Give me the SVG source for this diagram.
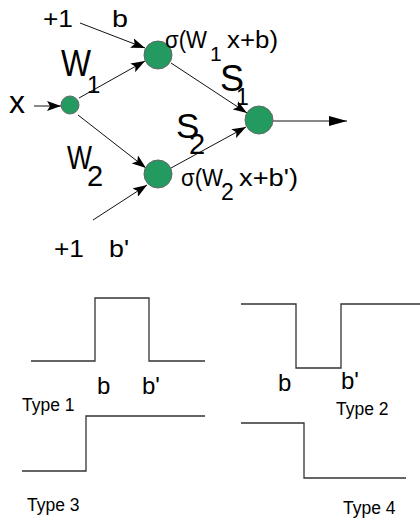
<svg xmlns="http://www.w3.org/2000/svg" width="420" height="521" viewBox="0 0 420 521">
<defs>
<style>
text{font-family:"Liberation Sans",Arial,sans-serif;fill:#000}
.node{fill:#229a60;stroke:#666;stroke-width:1}
.edge{stroke:#111;stroke-width:1;fill:none}
.step{stroke:#333;stroke-width:1.3;fill:none}
.t17{font-size:17.5px}
.lbl{font-size:24px}
</style>
<marker id="ah" viewBox="0 0 14 10" refX="14" refY="5" markerWidth="14" markerHeight="10" markerUnits="userSpaceOnUse" orient="auto">
<path d="M0,0 L14,5 L0,10 L3,5 Z" fill="#000"/>
</marker>
<marker id="ah2" viewBox="0 0 18 10" refX="18" refY="5" markerWidth="18" markerHeight="10" markerUnits="userSpaceOnUse" orient="auto">
<path d="M0,0 L18,5 L0,10 Z" fill="#000"/>
</marker>
</defs>
<rect width="420" height="521" fill="#fff"/>
<g id="connectors">
<line class="edge" x1="80" y1="23" x2="145" y2="48" marker-end="url(#ah)"/>
<line class="edge" x1="34" y1="106" x2="61" y2="106" marker-end="url(#ah)"/>
<line class="edge" x1="79" y1="98" x2="145" y2="61" marker-end="url(#ah)"/>
<line class="edge" x1="78" y1="115" x2="146" y2="168" marker-end="url(#ah)"/>
<line class="edge" x1="93" y1="220" x2="147" y2="185" marker-end="url(#ah)"/>
<line class="edge" x1="171" y1="63" x2="247" y2="113" marker-end="url(#ah)"/>
<line class="edge" x1="171" y1="168" x2="246" y2="127" marker-end="url(#ah)"/>
<line class="edge" x1="273" y1="121" x2="347" y2="121" marker-end="url(#ah2)"/>
</g>
<g id="node-x">
<circle class="node" cx="70" cy="105" r="9"/>
<text x="9" y="113" font-size="32">x</text>
</g>
<g id="node-h1">
<circle class="node" cx="158" cy="55" r="14"/>
<text x="165" y="48" font-size="23" textLength="42" lengthAdjust="spacingAndGlyphs">σ(W</text>
<text x="210" y="61" font-size="21">1</text>
<text x="227" y="48" font-size="23" textLength="51" lengthAdjust="spacingAndGlyphs">x+b)</text>
</g>
<g id="node-h2">
<circle class="node" cx="158" cy="174" r="14"/>
<text x="181" y="186" font-size="23" textLength="42" lengthAdjust="spacingAndGlyphs">σ(W</text>
<text x="221" y="200" font-size="23">2</text>
<text x="239" y="186" font-size="23" textLength="59" lengthAdjust="spacingAndGlyphs">x+b')</text>
</g>
<g id="node-out">
<circle class="node" cx="259" cy="120" r="14"/>
</g>
<g id="bias1">
<text x="43" y="27" class="lbl" textLength="30" lengthAdjust="spacingAndGlyphs">+1</text>
<text x="112" y="27" class="lbl" textLength="16" lengthAdjust="spacingAndGlyphs">b</text>
</g>
<g id="bias2">
<text x="54" y="257" class="lbl" textLength="30" lengthAdjust="spacingAndGlyphs">+1</text>
<text x="109" y="257" class="lbl" textLength="20" lengthAdjust="spacingAndGlyphs">b'</text>
</g>
<g id="weights">
<text x="61" y="76" font-size="36" textLength="30" lengthAdjust="spacingAndGlyphs">W</text>
<text x="87" y="93" font-size="24">1</text>
<text x="67" y="169" font-size="34" textLength="25" lengthAdjust="spacingAndGlyphs">W</text>
<text x="87" y="186" font-size="29">2</text>
<text x="220" y="91" font-size="36">S</text>
<text x="236" y="105" font-size="23">1</text>
<text x="176" y="138" font-size="35">S</text>
<text x="189" y="154" font-size="29">2</text>
</g>
<g id="type1">
<polyline class="step" points="31,361 95,361 95,298 149,298 149,361 205,361"/>
<text x="97" y="394" class="lbl">b</text>
<text x="142" y="394" class="lbl">b'</text>
<text class="t17" x="22" y="411">Type 1</text>
</g>
<g id="type2">
<polyline class="step" points="241,304 296,304 296,368 341,368 341,304 420,304"/>
<text x="278" y="391" class="lbl">b</text>
<text x="341" y="389" class="lbl">b'</text>
<text class="t17" x="336" y="415">Type 2</text>
</g>
<g id="type3">
<polyline class="step" points="22,471 86,471 86,416 205,416"/>
<text class="t17" x="27" y="511">Type 3</text>
</g>
<g id="type4">
<polyline class="step" points="241,423 304,423 304,478 406,478"/>
<text class="t17" x="343" y="514">Type 4</text>
</g>
</svg>
